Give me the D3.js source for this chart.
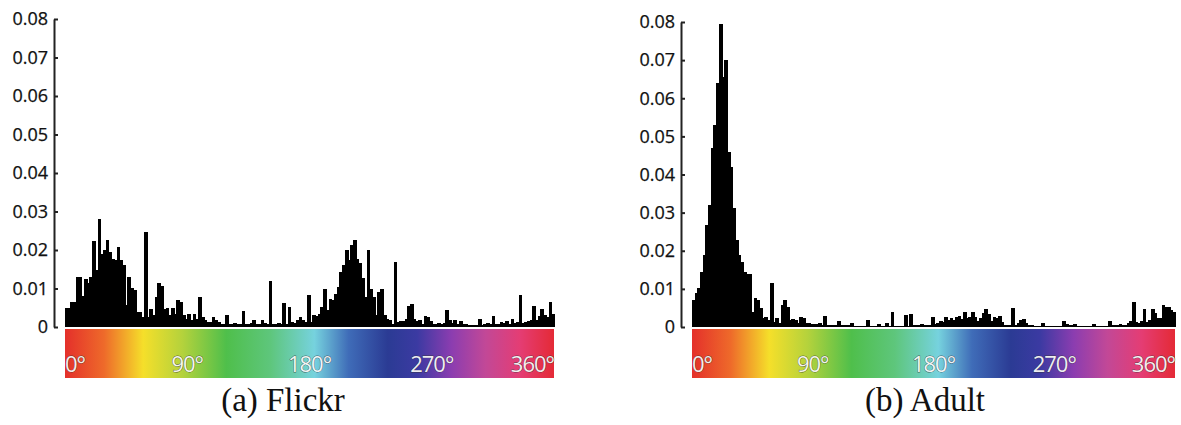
<!DOCTYPE html>
<html>
<head>
<meta charset="utf-8">
<script src="https://cdn.jsdelivr.net/npm/d3@7"></script>
<style>
  body { margin: 0; background: #fff; }
  .axis text { font-family: "Open Sans", sans-serif; font-size: 18px; fill: #111; stroke: #111; stroke-width: 0.25; }
  .axis path, .axis line { stroke: #222; stroke-width: 2; }
  .hue text { font-family: "Open Sans", sans-serif; font-size: 22px; letter-spacing: -1px;
              fill: #fff; fill-opacity: 0.92; stroke: #333; stroke-width: 0.8; stroke-opacity: 0.75;
              paint-order: stroke; }
  .caption { font-family: "Liberation Serif", "Times New Roman", serif; font-size: 33px; fill: #111; }
  .bar { shape-rendering: crispEdges; }
</style>
</head>
<body>
<div id="chart"></div>
<script>
    // 2 degree hue bins
    var hueBins = d3.range(0, 360, 2);

    var flickr = [
        0.005, 0.005, 0.0065, 0.0065, 0.013, 0.013, 0.008, 0.0125, 0.0115, 0.013,
        0.0223, 0.0147, 0.028, 0.019, 0.02, 0.0227, 0.0195, 0.0177, 0.0175, 0.0208,
        0.0173, 0.016, 0.0056, 0.013, 0.0102, 0.0095, 0.004, 0.004, 0.0026, 0.0247,
        0.0026, 0.0048, 0.003, 0.0078, 0.0114, 0.0106, 0.0048, 0.005, 0.003, 0.005,
        0.0035, 0.007, 0.0065, 0.003, 0.0022, 0.0035, 0.0017, 0.0035, 0.0022, 0.0078,
        0.0026, 0.0017, 0.0013, 0.0013, 0.0026, 0.0017, 0.0013, 0.0009, 0.0007, 0.003,
        0.0007, 0.0009, 0.001, 0.0007, 0.0007, 0.0042, 0.0007, 0.0007, 0.001, 0.0019,
        0.0009, 0.0007, 0.0017, 0.001, 0.0007, 0.012, 0.0007, 0.0007, 0.001, 0.0009,
        0.0062, 0.0009, 0.0052, 0.0013, 0.001, 0.0017, 0.0026, 0.0017, 0.0013, 0.0082,
        0.0013, 0.003, 0.0028, 0.0035, 0.0052, 0.01, 0.0043, 0.0074, 0.007, 0.0087,
        0.0104, 0.0143, 0.016, 0.02, 0.0173, 0.0212, 0.0225, 0.0177, 0.0165, 0.0126,
        0.0078, 0.02, 0.01, 0.0078, 0.003, 0.0091, 0.01, 0.003, 0.0022, 0.0017,
        0.0009, 0.0169, 0.0013, 0.0016, 0.0016, 0.0022, 0.0054, 0.0059, 0.0022, 0.0016,
        0.0019, 0.0009, 0.0028, 0.0026, 0.0016, 0.0009, 0.0007, 0.001, 0.0007, 0.001,
        0.0043, 0.0017, 0.001, 0.0017, 0.0007, 0.0016, 0.0009, 0.0007, 0.0005, 0.0005,
        0.0005, 0.0005, 0.0022, 0.0005, 0.0007, 0.001, 0.0007, 0.0028, 0.0007, 0.0009,
        0.0013, 0.001, 0.0016, 0.0009, 0.0022, 0.001, 0.0013, 0.0082, 0.001, 0.0013,
        0.0016, 0.0017, 0.0054, 0.0019, 0.0028, 0.0048, 0.003, 0.0026, 0.0065, 0.0035
    ];

    var adult = [
        0.0071, 0.0088, 0.0101, 0.0145, 0.0189, 0.0267, 0.032, 0.0469, 0.053, 0.0639,
        0.0794, 0.0656, 0.07, 0.046, 0.042, 0.0311, 0.0228, 0.0189, 0.0171, 0.0145,
        0.0138, 0.0138, 0.004, 0.0077, 0.0071, 0.0049, 0.0023, 0.0027, 0.0018, 0.0115,
        0.0014, 0.0023, 0.001, 0.0058, 0.0071, 0.0053, 0.0018, 0.0021, 0.0018, 0.001,
        0.0027, 0.0024, 0.001, 0.001, 0.0008, 0.0008, 0.0008, 0.0011, 0.0004, 0.003,
        0.0005, 0.0005, 0.0005, 0.0005, 0.0016, 0.0004, 0.0004, 0.0004, 0.0004, 0.0011,
        0.0003, 0.0003, 0.0003, 0.0003, 0.0003, 0.0018, 0.0003, 0.0003, 0.0003, 0.0008,
        0.0003, 0.0003, 0.001, 0.0003, 0.0039, 0.0003, 0.0003, 0.0003, 0.0003, 0.0031,
        0.0003, 0.0033, 0.0005, 0.0005, 0.0005, 0.0008, 0.0004, 0.0004, 0.0004, 0.0027,
        0.0008, 0.0011, 0.0017, 0.0014, 0.0027, 0.0018, 0.0023, 0.0018, 0.0027, 0.0029,
        0.002, 0.0039, 0.0023, 0.0027, 0.0039, 0.0027, 0.0017, 0.0023, 0.0036, 0.0046,
        0.0034, 0.0017, 0.0027, 0.0023, 0.0029, 0.0014, 0.0005, 0.0005, 0.0005, 0.0049,
        0.0005, 0.0011, 0.0018, 0.0021, 0.0011, 0.0004, 0.0004, 0.0003, 0.0003, 0.0003,
        0.001, 0.0003, 0.0003, 0.0003, 0.0003, 0.0003, 0.0003, 0.0003, 0.0017, 0.0008,
        0.0004, 0.0004, 0.0008, 0.0003, 0.0003, 0.0003, 0.0003, 0.0003, 0.0003, 0.0008,
        0.0003, 0.0003, 0.0003, 0.0003, 0.0003, 0.0015, 0.0004, 0.0004, 0.0004, 0.0008,
        0.0004, 0.0004, 0.0011, 0.0017, 0.0066, 0.0014, 0.0011, 0.0017, 0.0048, 0.0014,
        0.0018, 0.0046, 0.0036, 0.0023, 0.0023, 0.0058, 0.0053, 0.0052, 0.0045, 0.004
    ];

    var yTicks = [0, 0.01, 0.02, 0.03, 0.04, 0.05, 0.06, 0.07, 0.08];
    var hueTicks = [0, 90, 180, 270, 360];
    var hueLabels = ['0°', '90°', '180°', '270°', '360°'];
    var captions = ['(a) Flickr', '(b) Adult'];

    // colour strip stops (offset, colour)
    var hueStops = [
        [0, '#e4302b'], [0.08, '#ee6a2a'], [0.16, '#f5df2a'], [0.24, '#b4d23c'],
        [0.33, '#4fbf4b'], [0.42, '#5ec67c'], [0.51, '#76d2de'], [0.58, '#3f6cb8'],
        [0.66, '#2b3b94'], [0.72, '#3b3aa2'], [0.79, '#8b3db0'], [0.86, '#c24897'],
        [0.93, '#e43d74'], [1, '#e42a36']
    ];

    var panels = [
        {values: flickr, caption: captions[0], axisX: 54, left: 65, right: 554, top: 19, base: 327, capX: 283},
        {values: adult, caption: captions[1], axisX: 681, left: 692, right: 1175, top: 22, base: 327, capX: 925}
    ];

    var svg = d3.select('#chart').append('svg')
        .attr('width', 1181)
        .attr('height', 425);

    var grad = svg.append('defs').append('linearGradient')
        .attr('id', 'hueGrad')
        .attr('x1', 0).attr('x2', 1).attr('y1', 0).attr('y2', 0);
    grad.selectAll('stop')
        .data(hueStops)
        .enter().append('stop')
        .attr('offset', function(d){ return d[0]; })
        .attr('stop-color', function(d){ return d[1]; });

    panels.forEach(function(p){
        var x = d3.scaleBand()
            .domain(hueBins)
            .range([p.left, p.right])
            .padding(0);
        var y = d3.scaleLinear()
            .domain([0, 0.08])
            .range([p.base, p.top]);
        var hue = d3.scaleLinear()
            .domain([0, 360])
            .range([p.left, p.right]);

        var g = svg.append('g');

        // bars, slightly overlapping so no seams show
        g.selectAll('.bar')
            .data(p.values)
            .enter().append('rect')
            .attr('class', 'bar')
            .attr('x', function(d, i){ return x(hueBins[i]); })
            .attr('y', function(d){ return y(d); })
            .attr('width', x.bandwidth() + 1)
            .attr('height', function(d){ return p.base - y(d); })
            .attr('fill', '#000');

        // y axis, ticks pointing inward
        var yAxis = d3.axisLeft(y)
            .tickValues(yTicks)
            .tickSizeInner(-4)
            .tickSizeOuter(0)
            .tickPadding(6)
            .tickFormat(function(d){ return d === 0 ? '0' : d3.format('.2f')(d); });
        g.append('g')
            .attr('class', 'axis')
            .attr('transform', 'translate(' + [p.axisX, 0] + ')')
            .call(yAxis);

        // hue colour strip
        var strip = g.append('g').attr('class', 'hue');
        strip.append('rect')
            .attr('x', p.left)
            .attr('y', p.base + 2)
            .attr('width', p.right - p.left)
            .attr('height', 49)
            .attr('fill', 'url(#hueGrad)');
        strip.selectAll('text')
            .data(hueTicks)
            .enter().append('text')
            .attr('x', function(d){ return hue(d); })
            .attr('y', p.base + 45)
            .attr('text-anchor', function(d, i){
                return i === 0 ? 'start' : (i === hueTicks.length - 1 ? 'end' : 'middle');
            })
            .text(function(d, i){ return hueLabels[i]; });

        svg.append('text')
            .attr('class', 'caption')
            .attr('x', p.capX)
            .attr('y', 411)
            .attr('text-anchor', 'middle')
            .text(p.caption);
    });
</script>
</body>
</html>
